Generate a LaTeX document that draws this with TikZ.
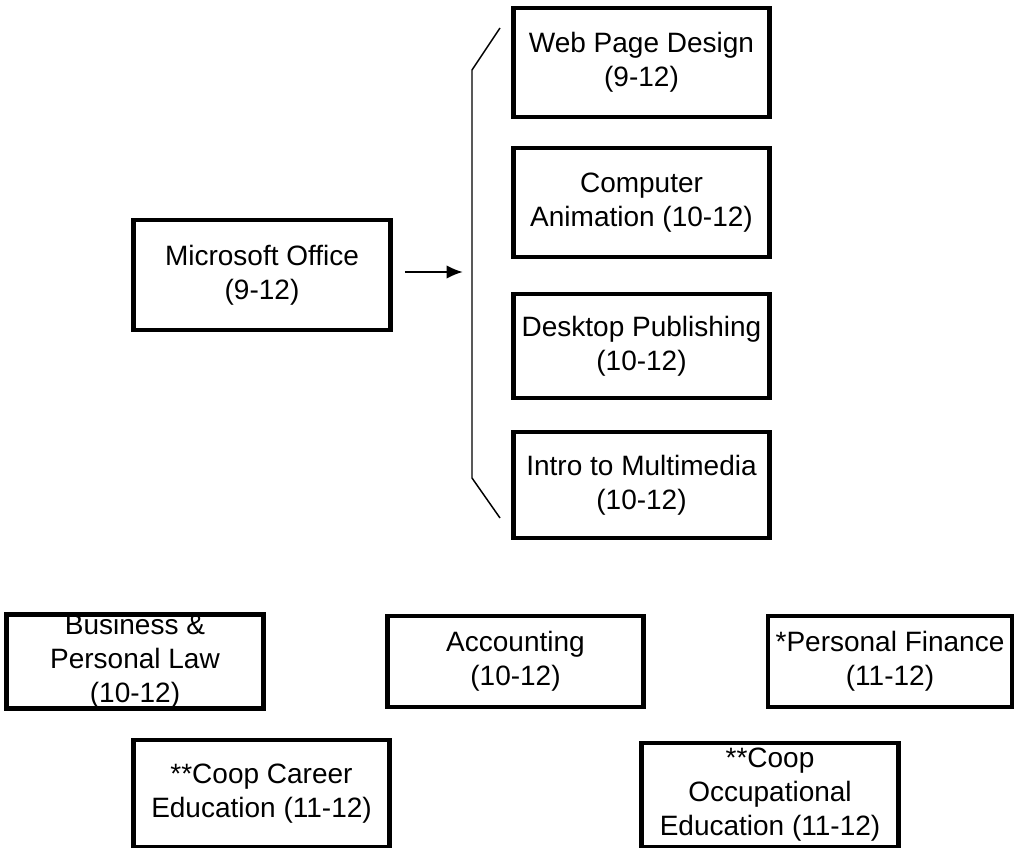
\documentclass[tikz,border=0pt]{standalone}
\usepackage{fontspec}
\setmainfont{Liberation Sans}
\usetikzlibrary{arrows.meta}
\begin{document}
\begin{tikzpicture}[x=0.75pt,y=-0.75pt,
  course/.style={draw=black, line width=3.7pt, inner sep=0pt, align=center,
    font=\fontsize{21}{25.5}\selectfont, minimum width=192.5pt},
  thinline/.style={draw=black, line width=1.1pt},
  arrowline/.style={thinline, -{Latex[length=12pt,width=10pt]}}]
\useasboundingbox (0,0) rectangle (1016,848);
% top group
\node[course, minimum height=82.5pt] (mo) at (262,275) {Microsoft Office\\(9-12)};
\node[course, minimum height=81.75pt] (wpd) at (641.5,62.5) {Web Page Design\\(9-12)};
\node[course, minimum height=81.75pt] (ca) at (641.5,202.5) {Computer\\Animation (10-12)};
\node[course, minimum height=78pt] (dp) at (641.5,346) {Desktop Publishing\\(10-12)};
\node[course, minimum height=79.5pt] (im) at (641.5,485) {Intro to Multimedia\\(10-12)};
% bracket
\coordinate (bt) at (500,28);
\coordinate (btc) at (472,70);
\coordinate (bmid) at (472,272);
\coordinate (bbc) at (472,478);
\coordinate (bb) at (500,518);
\draw[thinline] (bt) -- (btc) -- (bbc) -- (bb);
\draw[arrowline, shorten <=9pt, shorten >=7pt] (mo.east |- bmid) -- (bmid);
% bottom group
\node[course, minimum height=68.25pt] (bpl) at (135,661.5) {Business \&\\Personal Law\\(10-12)};
\node[course, minimum height=68.25pt] (acc) at (515.5,661.5) {Accounting\\(10-12)};
\node[course, minimum height=68.25pt, minimum width=183pt] (pf) at (890,661.5) {*Personal Finance\\(11-12)};
\node[course, minimum height=80.25pt] (cce) at (261.5,793.5) {**Coop Career\\Education (11-12)};
\node[course, minimum height=78pt] (coe) at (770,795) {**Coop\\Occupational\\Education (11-12)};
\end{tikzpicture}
\end{document}
